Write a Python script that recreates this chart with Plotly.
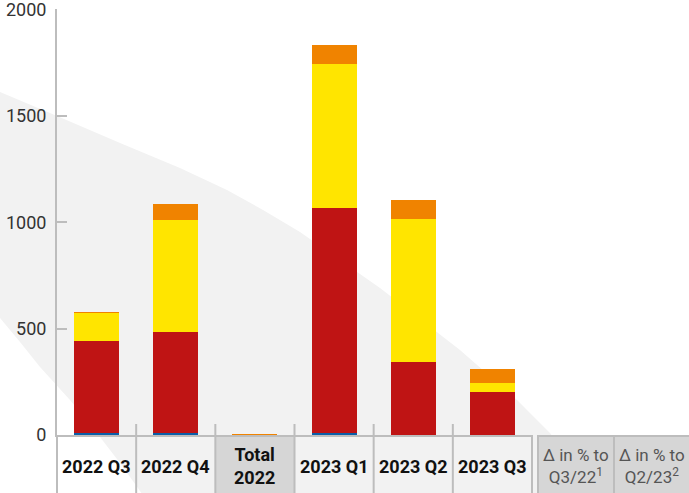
import plotly.graph_objects as go

categories = ["2022 Q3", "2022 Q4", "Total 2022", "2023 Q1", "2023 Q2", "2023 Q3"]
cat_labels = ["2022 Q3", "2022 Q4", "Total<br>2022", "2023 Q1", "2023 Q2", "2023 Q3"]
blue_vals = [8, 8, 0, 8, 0, 0]
red_vals = [434, 477, 0, 1060, 344, 202]
yellow_vals = [132, 527, 0, 678, 672, 43]
orange_vals = [1, 75, 4, 89, 90, 66]
delta_labels = ["Δ in % to<br>Q3/22<sup>1</sup>", "Δ in % to<br>Q2/23<sup>2</sup>"]
y_ticks = [0, 500, 1000, 1500, 2000]

W, H = 689, 493
L, R, T, B = 57, 156, 9, 58
PW, PH = W - L - R, H - T - B
YMAX = 2004


def px(x):
    return (x - L) / PW


def py(y):
    return (H - B - y) / PH


fig = go.Figure()
colors = ["#0b5ea8", "#bf1414", "#ffe500", "#f08300"]
for vals, c in zip([blue_vals, red_vals, yellow_vals, orange_vals], colors):
    fig.add_trace(go.Bar(x=categories, y=vals, marker=dict(color=c, line=dict(width=0)),
                         hoverinfo="skip", showlegend=False))

shapes = []
# background swoosh
upper = [(-5, 90), (0, 92), (57, 116), (120, 143), (180, 168), (227, 190), (263, 210), (300, 232),
         (380, 288), (460, 350), (517, 400), (550, 433), (602, 498)]
lower = [(145, 498), (120, 463), (100, 437), (70, 400), (40, 367), (20, 342), (0, 318), (-5, 312)]
pts = upper + lower
path = "M " + " L ".join(f"{px(x):.4f},{py(y):.4f}" for x, y in pts) + " Z"
shapes.append(dict(type="path", path=path, xref="paper", yref="paper", layer="below",
                   fillcolor="#f2f2f2", line=dict(width=0)))

gray = "#bdbdbd"
# Total 2022 cell
shapes.append(dict(type="rect", xref="x", yref="paper", x0=1.5, x1=2.5, y0=py(H + 5), y1=py(437),
                   fillcolor="#d6d6d6", line=dict(width=0), layer="below"))
# separators
for i in range(1, 6):
    shapes.append(dict(type="line", xref="x", yref="paper", x0=i - 0.5, x1=i - 0.5,
                       y0=py(424), y1=py(H + 5), line=dict(color=gray, width=2)))
shapes.append(dict(type="line", xref="x", yref="paper", x0=5.5, x1=5.5,
                   y0=py(435), y1=py(H + 5), line=dict(color=gray, width=2)))
# y axis extension
shapes.append(dict(type="line", xref="paper", yref="paper", x0=0, x1=0,
                   y0=0, y1=py(H + 5), line=dict(color=gray, width=2)))
# delta cells
for x0, x1 in [(538, 614), (614, 692)]:
    shapes.append(dict(type="rect", xref="paper", yref="paper", x0=px(x0), x1=px(x1),
                       y0=py(H + 5), y1=py(436), fillcolor="#d6d6d6",
                       line=dict(color=gray, width=2)))

annotations = []
for c, lab in zip(categories, cat_labels):
    annotations.append(dict(x=c, xref="x", y=py(466), yref="paper", text=lab, showarrow=False,
                            font=dict(family="Roboto", size=18, color="#111111", weight="bold"),
                            yanchor="middle", xanchor="center"))
for xc, lab in zip([576, 652], delta_labels):
    annotations.append(dict(x=px(xc), xref="paper", y=py(466), yref="paper", text=lab,
                            showarrow=False, font=dict(family="Roboto", size=17, color="#555555"),
                            yanchor="middle", xanchor="center"))

fig.update_layout(
    width=W, height=H, margin=dict(l=L, r=R, t=T, b=B, autoexpand=False),
    barmode="stack", bargap=0.43,
    paper_bgcolor="white", plot_bgcolor="rgba(0,0,0,0)",
    shapes=shapes, annotations=annotations,
    xaxis=dict(showticklabels=False, showline=True, linecolor=gray, linewidth=2,
               ticks="", showgrid=False, zeroline=False, fixedrange=True, automargin=False),
    yaxis=dict(range=[0, YMAX], tickvals=y_ticks, showline=True, linecolor=gray, linewidth=2,
               ticks="inside", ticklen=10, tickwidth=2, tickcolor=gray, showgrid=False,
               zeroline=False, ticklabelstandoff=5, automargin=False,
               ticklabeloverflow="allow",
               tickfont=dict(family="Roboto", size=18, color="#333333")),
)
fig.write_html("out.html")
